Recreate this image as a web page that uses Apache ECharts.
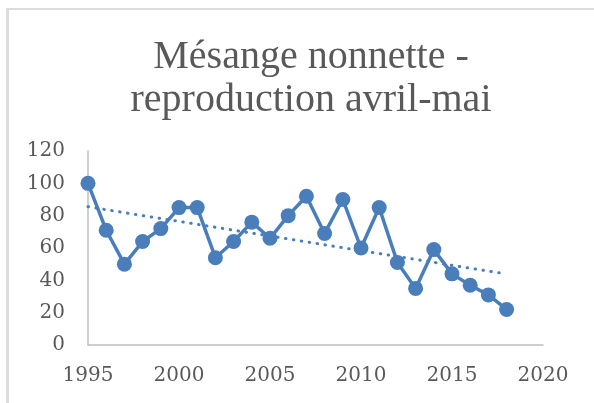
<!DOCTYPE html>
<html>
<head>
<meta charset="utf-8">
<script src="https://cdn.jsdelivr.net/npm/echarts@6/dist/echarts.min.js"></script>
<style>
html,body{margin:0;padding:0;background:#fff;}
#wrap{position:relative;width:594px;height:403px;overflow:hidden;}
#frame{position:absolute;left:6px;top:8px;right:-4px;bottom:-4px;border-left:3px solid #dcdcdc;border-top:2px solid #dcdcdc;}
#chart{position:absolute;left:0;top:0;width:594px;height:403px;}
</style>
</head>
<body>
<div id="wrap"><div id="frame"></div><div id="chart"></div></div>
<script>
const titleText = 'Mésange nonnette -\nreproduction avril-mai';
const years = [1995,1996,1997,1998,1999,2000,2001,2002,2003,2004,2005,2006,2007,2008,2009,2010,2011,2012,2013,2014,2015,2016,2017,2018];
const values = [100,71,50,64,72,85,85,54,64,76,66,80,92,69,90,60,85,51,35,59,44,37,31,22];
const trendYears = [1995, 2018];
const trendValues = [85.5, 43.9];
const xTicks = {min:1995, max:2020, interval:5};
const yTicks = {min:0, max:120, interval:20};

const blue = '#4a7ebb';
const labelFont = {color:'#595959', fontFamily:'DejaVu Serif', fontSize:20};

const chart = echarts.init(document.getElementById('chart'), null, {renderer:'canvas'});
chart.setOption({
  animation:false,
  backgroundColor:'transparent',
  title:{
    text:titleText,
    left:306, top:31, textAlign:'center',
    textStyle:{color:'#595959', fontFamily:'Liberation Serif', fontSize:40, fontWeight:'normal', lineHeight:43}
  },
  grid:{left:88, right:51, top:151, bottom:58, containLabel:false},
  xAxis:{
    type:'value', min:xTicks.min, max:xTicks.max, interval:xTicks.interval,
    axisLine:{show:true, lineStyle:{color:'#bfbfbf', width:1.5}},
    axisTick:{show:false},
    splitLine:{show:false},
    axisLabel:Object.assign({margin:21, formatter:v=>String(v)}, labelFont)
  },
  yAxis:{
    type:'value', min:yTicks.min, max:yTicks.max, interval:yTicks.interval,
    axisLine:{show:true, lineStyle:{color:'#bfbfbf', width:1.5}},
    axisTick:{show:false},
    splitLine:{show:false},
    axisLabel:Object.assign({margin:23}, labelFont)
  },
  series:[
    {
      type:'line',
      data:trendYears.map((y,i)=>[y,trendValues[i]]),
      showSymbol:false, symbol:'none',
      lineStyle:{color:blue, width:3, type:[0.5,7.5], cap:'round'},
      z:1
    },
    {
      type:'line',
      data:years.map((y,i)=>[y,values[i]]),
      symbol:'circle', symbolSize:15,
      itemStyle:{color:blue},
      lineStyle:{color:blue, width:3.5},
      z:2
    }
  ]
});
</script>
</body>
</html>
